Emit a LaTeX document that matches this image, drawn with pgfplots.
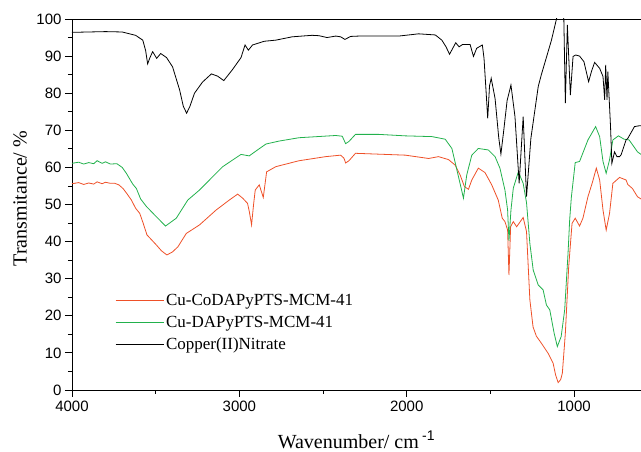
\documentclass[border=0pt]{standalone}
\usepackage{fontspec}
\setmainfont{Liberation Serif}
\newfontfamily\tickfont{Liberation Sans}
\usepackage{pgfplots}
\pgfplotsset{compat=1.18}
\definecolor{ftred}{RGB}{238,80,40}
\definecolor{ftgreen}{RGB}{34,177,76}
\begin{document}
\begin{tikzpicture}
\useasboundingbox (-72pt,-62pt) rectangle (569pt,390pt);
\begin{axis}[
  scale only axis, width=569pt, height=371pt,
  x dir=reverse, xmin=600, xmax=4000, ymin=0, ymax=100,
  axis x line=box, axis y line=left,
  x axis line style={-}, y axis line style={-},
  axis line style={line width=0.8pt},
  xtick={1000,2000,3000,4000}, minor xtick={1500,2500,3500},
  ytick={0,10,...,100}, minor ytick={5,15,...,95},
  xtick pos=bottom, ytick pos=left, tick align=outside,
  major tick length=7pt, minor tick length=4pt,
  every tick/.style={black,line width=0.8pt},
  tick label style={font=\tickfont\fontsize{15}{18}\selectfont},
  /pgf/number format/assume math mode=true,
  /pgf/number format/1000 sep={},
  xlabel={Wavenumber/ cm\,\textsuperscript{\tickfont -1}},
  ylabel={Transmitance/ \%},
  xlabel style={at={(axis description cs:0.5,-0.135)}, anchor=center, font=\fontsize{20}{24}\selectfont},
  ylabel style={at={(axis description cs:-0.0914,0.516)}, anchor=center, font=\fontsize{20}{24}\selectfont},
  legend style={at={(axis description cs:0.07,0.27)}, anchor=north west, draw=none, fill=none,
    font=\fontsize{17}{20}\selectfont, row sep=5pt},
  legend cell align=left,
  legend image code/.code={\draw[#1,line width=1pt] (0pt,0pt) -- (48pt,0pt);},
  every axis plot/.append style={line width=0.8pt, no marks},
]
% Cu-CoDAPyPTS-MCM-41
\addplot[ftred] coordinates {
(4000,55.6)(3960,55.9)(3930,55.4)(3900,55.8)(3870,55.5)(3850,56.1)(3820,55.6)(3800,56.0)(3770,55.7)(3744,55.7)
(3720,55.3)(3695,54.3)(3670,52.8)(3645,51.2)(3620,49.0)(3595,47.6)(3575,45.0)(3552,41.8)(3496,39.1)(3465,37.5)
(3433,36.4)(3400,37.2)(3367,38.6)(3317,42.2)(3238,44.5)(3139,48.5)(3060,51.2)(3010,52.8)(2980,51.7)(2951,50.3)
(2940,48.0)(2927,44.5)(2915,50.0)(2905,53.9)(2881,55.3)(2857,51.9)(2837,58.8)(2782,60.2)(2643,61.8)(2484,62.9)
(2395,63.3)(2375,62.5)(2365,61.2)(2345,61.8)(2306,63.8)(2008,63.3)(1869,62.4)(1810,62.9)(1750,62.1)(1710,60.6)
(1681,58.0)(1655,54.8)(1631,54.1)(1611,56.6)(1572,59.8)(1532,58.6)(1492,55.3)(1453,51.2)(1429,46.3)(1413,45.4)
(1397,43.1)(1389,31.0)(1379,44.0)(1363,45.4)(1343,44.0)(1304,46.5)(1284,42.7)(1264,24.3)(1245,17.0)(1225,14.5)(1195,12.6)
(1155,9.9)(1125,7.2)(1110,4.0)(1095,2.0)(1080,2.8)(1070,4.5)(1052,15.3)(1032,33.2)(1012,44.9)(993,46.3)
(967,44.2)(947,46.3)(917,52.1)(890,56.0)(867,59.8)(847,56.6)(827,48.5)(808,43.1)(788,47.6)(768,55.7)
(728,57.3)(689,56.6)(679,55.4)(651,54.3)(621,52.1)(600,51.5)};
\addlegendentry{Cu-CoDAPyPTS-MCM-41}
% Cu-DAPyPTS-MCM-41
\addplot[ftgreen] coordinates {
(4000,61.1)(3960,61.4)(3930,60.9)(3900,61.3)(3870,61.0)(3850,61.8)(3820,61.1)(3800,61.5)(3770,60.9)(3732,61.0)
(3700,60.0)(3675,58.4)(3637,55.5)(3615,54.3)(3590,51.5)(3556,49.5)(3496,46.7)(3441,44.2)(3377,46.3)(3308,51.2)
(3238,53.9)(3159,57.5)(3099,60.2)(3040,62.0)(2990,63.5)(2941,63.1)(2901,64.4)(2841,66.3)(2762,67.1)(2643,68.0)
(2424,68.6)(2385,68.4)(2365,66.4)(2345,67.0)(2306,68.9)(2167,68.9)(2008,68.5)(1849,68.3)(1770,67.6)(1730,65.1)
(1700,59.3)(1674,54.3)(1661,51.7)(1641,58.0)(1611,63.3)(1572,65.1)(1512,64.7)(1472,62.9)(1443,59.8)(1413,53.9)
(1397,48.5)(1389,40.2)(1377,48.5)(1363,54.4)(1333,58.8)(1304,55.7)(1284,50.5)(1264,39.5)(1244,32.3)(1214,28.3)
(1185,27.0)(1165,22.9)(1145,21.6)(1119,15.3)(1100,11.7)(1077,14.4)(1056,21.6)(1036,36.8)(1026,46.0)(1016,52.0)
(993,61.3)(967,61.6)(917,67.4)(871,71.0)(847,68.3)(827,61.6)(808,58.4)(788,62.0)(768,67.4)(735,68.5)
(701,67.6)(671,67.4)(621,64.2)(600,63.5)};
\addlegendentry{Cu-DAPyPTS-MCM-41}
% Copper(II) nitrate
\addplot[black] coordinates {
(4000,96.4)(3900,96.5)(3800,96.6)(3700,96.5)(3673,96.2)(3620,95.6)(3577,94.3)(3560,91.5)(3548,87.9)(3535,89.5)
(3518,91.2)(3494,89.4)(3470,90.7)(3435,89.6)(3399,87.1)(3357,80.9)(3335,76.5)(3315,74.6)(3295,76.5)(3268,80.0)
(3220,83.0)(3167,85.2)(3130,84.6)(3093,83.4)(3042,86.3)(2990,89.6)(2966,93.0)(2946,91.6)(2921,93.0)(2851,94.0)
(2782,94.3)(2684,95.2)(2566,95.6)(2524,95.5)(2476,95.0)(2424,95.4)(2395,95.2)(2369,94.5)(2335,95.3)(2286,95.4)
(2048,95.4)(1929,96.0)(1829,95.7)(1790,94.3)(1765,92.5)(1744,90.5)(1707,93.6)(1687,92.5)(1667,93.1)(1621,93.1)
(1601,89.9)(1582,92.1)(1548,93.0)(1538,89.4)(1525,80.0)(1516,73.2)(1505,82.0)(1495,84.0)(1472,78.6)(1450,68.0)
(1437,63.6)(1420,70.0)(1400,78.0)(1377,82.2)(1353,73.7)(1328,55.7)(1304,73.7)(1284,52.1)(1258,67.8)(1214,81.8)
(1196,84.9)(1155,91.2)(1135,94.3)(1105,100)(1085,104)(1061,100)(1052,77.3)(1040,98.4)(1022,79.5)(1006,89.9)
(990,90.3)(967,90.0)(941,88.5)(913,83.1)(895,86.0)(877,88.3)(847,86.7)(827,84.5)(817,78.2)(811,87.6)
(803,78.2)(798,85.8)(782,71.0)(774,61.1)(758,64.2)(744,62.9)(728,62.9)(719,63.4)(689,67.4)(679,67.8)
(639,71.0)(613,71.2)(600,71.2)};
\addlegendentry{Copper(II)Nitrate}
\end{axis}
\end{tikzpicture}
\end{document}
